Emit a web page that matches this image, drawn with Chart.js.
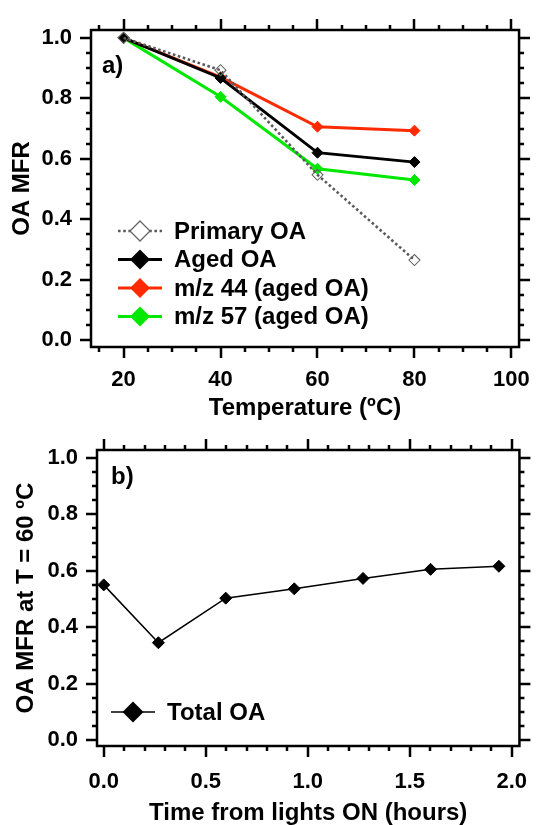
<!DOCTYPE html>
<html>
<head>
<meta charset="utf-8">
<script src="https://cdn.jsdelivr.net/npm/chart.js@4.4.1/dist/chart.umd.min.js"></script>
<style>
  html, body { margin: 0; padding: 0; background: #fff; }
  #wrap { position: relative; width: 552px; height: 825px; }
  canvas { position: absolute; left: 0; }
  #chartA { top: 0; }
  #chartB { top: 420px; }
</style>
</head>
<body>
<div id="wrap">
  <canvas id="chartA" width="552" height="420"></canvas>
  <canvas id="chartB" width="552" height="405"></canvas>
</div>
<script>
// ─── Data: panel a (MFR vs thermodenuder temperature) ───
const tempC      = [20, 40, 60, 80];
const primaryOA  = [1.0, 0.893, 0.547, 0.265];
const agedOA     = [1.0, 0.867, 0.620, 0.589];
const mz44Aged   = [1.0, 0.870, 0.706, 0.693];
const mz57Aged   = [1.0, 0.805, 0.567, 0.530];

// ─── Data: panel b (MFR at 60 °C vs time since lights on) ───
const timeHours  = [0, 0.268, 0.598, 0.934, 1.271, 1.602, 1.937];
const totalOA    = [0.550, 0.345, 0.503, 0.536, 0.573, 0.605, 0.616];

// ─── Tick labels ───
const tempTicks  = [20, 40, 60, 80, 100];
const timeTicks  = [0, 0.5, 1.0, 1.5, 2.0];
const mfrTicks   = [0, 0.2, 0.4, 0.6, 0.8, 1.0];

const FONT = "'Liberation Sans', Arial, sans-serif";
const RED = 'rgb(255, 42, 0)';
const GREEN = 'rgb(0, 232, 0)';
const GREY = '#5a5a5a';

const xy = (xs, ys) => xs.map((x, i) => ({ x, y: ys[i] }));

// ─── Plugin: Igor-style frame with mirrored major/minor ticks ───

const frameTicks = {
  id: 'frameTicks',
  afterDraw(chart, args, o) {
    const { ctx, chartArea: a, scales: { x, y } } = chart;
    ctx.save();
    ctx.strokeStyle = '#000';
    ctx.lineWidth = 2.5;
    ctx.strokeRect(a.left, a.top, a.right - a.left, a.bottom - a.top);
    const marks = (scale, step) => {
      const out = [];
      for (let k = Math.ceil(scale.min / step - 1e-9); k * step <= scale.max + 1e-9; k++) out.push(k * step);
      return out;
    };
    const isMajor = (scale, v) => scale.ticks.some(t => Math.abs(t.value - v) < 1e-6);
    ctx.beginPath();
    for (const v of marks(x, o.xMinor)) {
      const p = Math.round(x.getPixelForValue(v));
      const len = isMajor(x, v) ? 11 : 5;
      ctx.moveTo(p, a.bottom); ctx.lineTo(p, a.bottom + len);
      ctx.moveTo(p, a.top); ctx.lineTo(p, a.top - len);
    }
    for (const v of marks(y, o.yMinor)) {
      const p = Math.round(y.getPixelForValue(v));
      const len = isMajor(y, v) ? 11 : 5;
      ctx.moveTo(a.left, p); ctx.lineTo(a.left - len, p);
      ctx.moveTo(a.right, p); ctx.lineTo(a.right + len, p);
    }
    ctx.stroke();
    ctx.restore();
  }
};

// ─── Plugin: inset legend + panel letter ───

function diamond(ctx, cx, cy, r) {
  ctx.beginPath();
  ctx.moveTo(cx, cy - r);
  ctx.lineTo(cx + r, cy);
  ctx.lineTo(cx, cy + r);
  ctx.lineTo(cx - r, cy);
  ctx.closePath();
}

const insetLegend = {
  id: 'insetLegend',
  afterDraw(chart, args, o) {
    const ctx = chart.ctx;
    ctx.save();
    ctx.font = `bold ${o.fontSize}px ${FONT}`;
    ctx.fillStyle = '#000';
    ctx.textBaseline = 'middle';
    ctx.textAlign = 'left';
    ctx.fillText(o.panel, o.panelX, o.panelY);

    chart.data.datasets.forEach((ds, i) => {
      const yy = o.top + i * o.gap;
      ctx.strokeStyle = ds.borderColor;
      ctx.lineWidth = ds.borderWidth;
      ctx.setLineDash(ds.borderDash || []);
      ctx.beginPath();
      ctx.moveTo(o.x0, yy); ctx.lineTo(o.x1, yy);
      ctx.stroke();
      ctx.setLineDash([]);
      diamond(ctx, o.mx, yy, o.r);
      if (ds.pointBackgroundColor !== 'transparent') {
        ctx.fillStyle = ds.pointBackgroundColor;
        ctx.fill();
      } else {
        ctx.fillStyle = '#fff';
        ctx.fill();
        ctx.strokeStyle = ds.pointBorderColor;
        ctx.lineWidth = 1.3;
        ctx.stroke();
      }
      ctx.fillStyle = '#000';
      ctx.fillText(ds.label, o.tx, yy + 1);
    });
    ctx.restore();
  }
};

// ─── Dataset builders ───

function solidSeries(label, data, color, width) {
  return {
    label, data,
    borderColor: color, borderWidth: width,
    pointStyle: 'rectRot', pointRadius: 5.5,
    pointBackgroundColor: color, pointBorderColor: color, pointBorderWidth: 1,
    tension: 0, fill: false,
  };
}

// ─── Shared axis builder ───

function axis({ min, max, ticks, fmt, pad, fit, title, titlePad, horizontal }) {
  return {
    type: 'linear',
    min, max,
    grid: { display: false, drawTicks: false },
    border: { display: false },
    afterBuildTicks: s => { s.ticks = ticks.map(value => ({ value })); },
    afterFit: s => { if (horizontal) s.height = fit; else s.width = fit; },
    ticks: {
      color: '#000', padding: pad, maxRotation: 0, autoSkip: false,
      font: { family: FONT, size: 22, weight: 'bold', lineHeight: 1 },
      callback: fmt,
    },
    title: {
      display: true, text: title, color: '#000', padding: titlePad,
      font: { family: FONT, size: 24, weight: 'bold', lineHeight: 1 },
    },
  };
}

const baseOptions = {
  responsive: false,
  animation: false,
  devicePixelRatio: 1,
  plugins: { legend: { display: false }, tooltip: { enabled: false } },
};

// ─── Panel a ───

new Chart(document.getElementById('chartA'), {
  type: 'line',
  data: {
    datasets: [
      {
        label: 'Primary OA', data: xy(tempC, primaryOA),
        borderColor: GREY, borderWidth: 2.6, borderDash: [2.6, 2.6],
        pointStyle: 'rectRot', pointRadius: 5.5,
        pointBackgroundColor: 'transparent', pointBorderColor: '#666', pointBorderWidth: 1.1,
        tension: 0, fill: false,
      },
      solidSeries('Aged OA', xy(tempC, agedOA), '#000', 2.8),
      solidSeries('m/z 44 (aged OA)', xy(tempC, mz44Aged), RED, 3),
      solidSeries('m/z 57 (aged OA)', xy(tempC, mz57Aged), GREEN, 3),
    ],
  },
  options: {
    ...baseOptions,
    layout: { padding: { top: 24, right: 14, left: 0, bottom: 0 } },
    scales: {
      x: axis({ min: 13.28, max: 101.58, ticks: tempTicks, fmt: v => String(v), pad: 22, fit: 73,
                title: 'Temperature (ºC)', titlePad: { bottom: 0 }, horizontal: true }),
      y: axis({ min: -0.0227, max: 1.026, ticks: mfrTicks, fmt: v => v.toFixed(1), pad: 19, fit: 91,
                title: 'OA MFR', titlePad: { top: 10 }, horizontal: false }),
    },
    plugins: {
      ...baseOptions.plugins,
      frameTicks: { xMinor: 5, yMinor: 0.05 },
      insetLegend: { panel: 'a)', panelX: 102, panelY: 66, fontSize: 24,
                     top: 231, gap: 28.5, x0: 118, x1: 162, mx: 140, r: 10, tx: 174 },
    },
  },
  plugins: [frameTicks, insetLegend],
});

// ─── Panel b ───

new Chart(document.getElementById('chartB'), {
  type: 'line',
  data: {
    datasets: [
      {
        label: 'Total OA', data: xy(timeHours, totalOA),
        borderColor: '#000', borderWidth: 1.5,
        pointStyle: 'rectRot', pointRadius: 6,
        pointBackgroundColor: '#000', pointBorderColor: '#000', pointBorderWidth: 1,
        tension: 0, fill: false,
      },
    ],
  },
  options: {
    ...baseOptions,
    layout: { padding: { top: 27, right: 14, left: 0, bottom: 0 } },
    scales: {
      x: axis({ min: -0.033, max: 2.0376, ticks: timeTicks, fmt: v => v.toFixed(1), pad: 24.7, fit: 79,
                title: 'Time from lights ON (hours)', titlePad: { bottom: 0 }, horizontal: true }),
      y: axis({ min: -0.021, max: 1.028, ticks: mfrTicks, fmt: v => v.toFixed(1), pad: 19, fit: 97,
                title: 'OA MFR at T = 60 ºC', titlePad: { top: 14 }, horizontal: false }),
    },
    plugins: {
      ...baseOptions.plugins,
      frameTicks: { xMinor: 0.1, yMinor: 0.05 },
      insetLegend: { panel: 'b)', panelX: 111, panelY: 57, fontSize: 24,
                     top: 292, gap: 28.5, x0: 111, x1: 155, mx: 133, r: 10.5, tx: 167 },
    },
  },
  plugins: [frameTicks, insetLegend],
});
</script>
</body>
</html>
